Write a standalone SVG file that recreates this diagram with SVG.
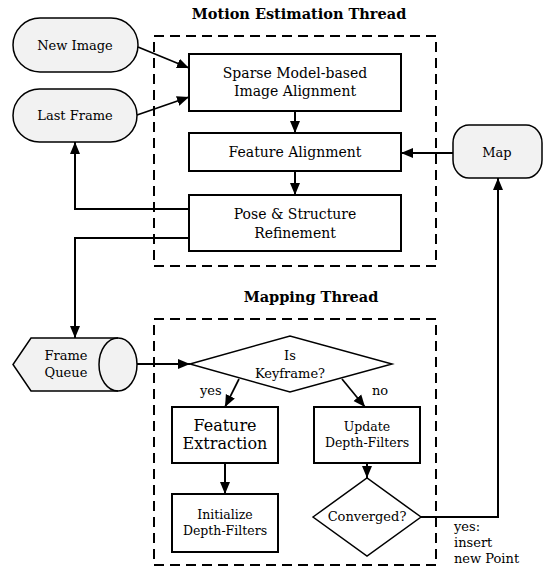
<svg xmlns="http://www.w3.org/2000/svg" width="559" height="581" viewBox="0 0 559 581">
<style>
text{font-family:"DejaVu Serif","Liberation Serif",serif;fill:#000;text-anchor:middle}
.t{font-size:14.5px;font-weight:bold}
.n{font-size:13px}
.b{font-size:14px}
.s{font-size:12.5px}
.big{font-size:16px}
.term{fill:#f2f2f2;stroke:#000;stroke-width:1.5}
.box{fill:#fff;stroke:#000;stroke-width:2}
.dec{fill:#fff;stroke:#000;stroke-width:1.5}
.dash{fill:none;stroke:#000;stroke-width:2;stroke-dasharray:10,6}
.c{fill:none;stroke:#000;stroke-width:2}
.lbl{font-size:13px;text-anchor:start}
</style>
<defs>
<marker id="ah" markerUnits="userSpaceOnUse" markerWidth="12" markerHeight="12" viewBox="0 0 12 12" refX="12" refY="6" orient="auto">
<path d="M0,1 L12,6 L0,11 Z" fill="#000"/>
</marker>
</defs>
<rect width="559" height="581" fill="#fff"/>
<g id="frames">
<rect class="dash" x="154" y="36" width="282" height="230"/>
<rect class="dash" x="154" y="319" width="282" height="246"/>
<text class="t" x="299" y="19">Motion Estimation Thread</text>
<text class="t" x="311" y="302">Mapping Thread</text>
</g>
<g id="connectors">
<path class="c" d="M138,47 L189,68" marker-end="url(#ah)" style="stroke-width:1.7"/>
<path class="c" d="M137,115 L189,97" marker-end="url(#ah)" style="stroke-width:1.7"/>
<path class="c" d="M295,111 L295,133" marker-end="url(#ah)"/>
<path class="c" d="M295,171 L295,195" marker-end="url(#ah)"/>
<path class="c" d="M189,209 L75,209 L75,142" marker-end="url(#ah)"/>
<path class="c" d="M189,238 L75,238 L75,338" marker-end="url(#ah)"/>
<path class="c" d="M453,153 L401,153" marker-end="url(#ah)"/>
<path class="c" d="M137,364 L190,364" marker-end="url(#ah)"/>
<path class="c" d="M239,379 L225,407" marker-end="url(#ah)" style="stroke-width:1.7"/>
<path class="c" d="M342,379 L365,407" marker-end="url(#ah)" style="stroke-width:1.7"/>
<path class="c" d="M225,463 L225,494" marker-end="url(#ah)"/>
<path class="c" d="M367,463 L367,478" marker-end="url(#ah)"/>
<path class="c" d="M421,517 L498,517 L498,178" marker-end="url(#ah)"/>
<text class="lbl" x="200" y="395">yes</text>
<text class="lbl" x="372" y="395">no</text>
<text class="lbl" x="454" y="531">yes:</text>
<text class="lbl" x="454" y="547">insert</text>
<text class="lbl" x="454" y="563">new Point</text>
</g>
<g id="new-image">
<rect class="term" x="13" y="18" width="125" height="54" rx="27" ry="27"/>
<text class="n" x="75" y="49.5">New Image</text>
</g>
<g id="last-frame">
<rect class="term" x="13" y="89" width="124" height="53" rx="26.5" ry="26.5"/>
<text class="n" x="75" y="120">Last Frame</text>
</g>
<g id="sparse">
<rect class="box" x="189" y="54" width="212" height="57"/>
<text class="b" x="295" y="78">Sparse Model-based</text>
<text class="b" x="295" y="96">Image Alignment</text>
</g>
<g id="feature-alignment">
<rect class="box" x="189" y="133" width="212" height="38"/>
<text class="b" x="295" y="157">Feature Alignment</text>
</g>
<g id="pose">
<rect class="box" x="189" y="195" width="212" height="56"/>
<text class="b" x="295" y="219">Pose &amp; Structure</text>
<text class="b" x="295" y="238">Refinement</text>
</g>
<g id="map">
<rect class="term" x="453" y="125" width="89" height="53" rx="16" ry="18"/>
<text class="n" x="497" y="157">Map</text>
</g>
<g id="frame-queue">
<path class="term" d="M31,338 L118,338 A19,26.5 0 0 1 118,391 L31,391 L13,364.5 Z"/>
<path class="c" style="stroke-width:1.5" d="M118,338 A19,26.5 0 0 0 118,391"/>
<text class="n" x="66" y="360">Frame</text>
<text class="n" x="66" y="377">Queue</text>
</g>
<g id="is-keyframe">
<path class="dec" d="M190,364 L290,336 L392,364 L290,392 Z"/>
<text class="n" x="290" y="360">Is</text>
<text class="n" x="290" y="378">Keyframe?</text>
</g>
<g id="feature-extraction">
<rect class="box" x="172" y="407" width="106" height="56"/>
<text class="big" x="225" y="431">Feature</text>
<text class="big" x="225" y="449">Extraction</text>
</g>
<g id="update">
<rect class="box" x="314" y="407" width="106" height="56"/>
<text class="s" x="367" y="431">Update</text>
<text class="s" x="367" y="447">Depth-Filters</text>
</g>
<g id="initialize">
<rect class="box" x="172" y="494" width="106" height="58"/>
<text class="s" x="225" y="519">Initialize</text>
<text class="s" x="225" y="535">Depth-Filters</text>
</g>
<g id="converged">
<path class="dec" d="M313,517 L367,478 L421,517 L367,556 Z"/>
<text class="n" x="367" y="521">Converged?</text>
</g>
</svg>
